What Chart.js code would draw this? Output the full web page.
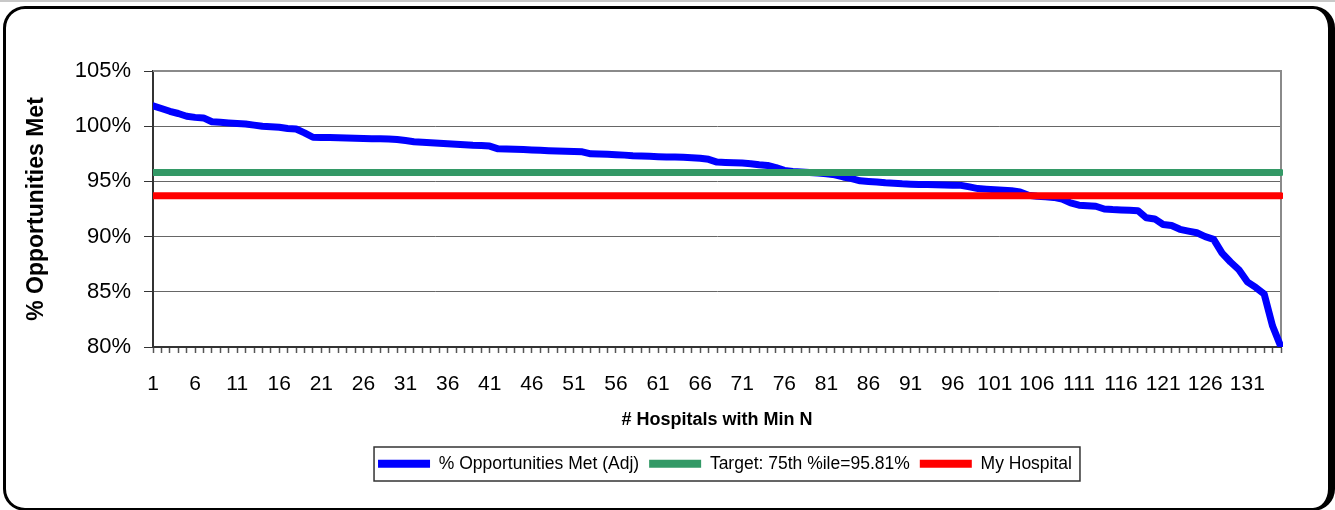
<!DOCTYPE html>
<html>
<head>
<meta charset="utf-8">
<title>% Opportunities Met</title>
<script src="https://cdn.jsdelivr.net/npm/chart.js@4.4.1/dist/chart.umd.min.js"></script>
<style>
    html, body { margin: 0; padding: 0; background: #ffffff; }
    #wrap { position: relative; width: 1335px; height: 510px; overflow: hidden; }
    #topline { position: absolute; left: 0; top: 0; width: 1335px; height: 2px; background: #c8c8c8; }
    #frame {
        position: absolute; left: 3px; top: 6px; width: 1322px; height: 499px;
        border-style: solid; border-color: #000; border-width: 3px 7px 3px 3px;
        border-radius: 22px; pointer-events: none;
    }
    canvas { position: absolute; left: 0; top: 0; }
</style>
</head>
<body>
<div id="wrap">
    <div id="topline"></div>
    <canvas id="chart" width="1335" height="510"></canvas>
    <div id="frame"></div>
</div>
<script>
// hospital values, sorted high to low (% opportunities met, adjusted)
const pctMet = [
    101.85, 101.6, 101.35, 101.15, 100.9, 100.8, 100.75, 100.4, 100.35, 100.3,
    100.25, 100.2, 100.1, 100.0, 99.95, 99.9, 99.8, 99.75, 99.4, 99.0,
    98.98, 98.97, 98.96, 98.93, 98.9, 98.88, 98.87, 98.86, 98.85, 98.8,
    98.7, 98.6, 98.55, 98.5, 98.45, 98.4, 98.36, 98.32, 98.28, 98.26,
    98.2, 97.95, 97.93, 97.91, 97.88, 97.85, 97.82, 97.78, 97.75, 97.72,
    97.7, 97.68, 97.5, 97.48, 97.45, 97.42, 97.38, 97.33, 97.3, 97.27,
    97.24, 97.22, 97.2, 97.18, 97.15, 97.1, 97.0, 96.75, 96.72, 96.7,
    96.66, 96.6, 96.5, 96.45, 96.25, 96.0, 95.9, 95.85, 95.8, 95.75,
    95.7, 95.6, 95.4, 95.25, 95.05, 95.0, 94.95, 94.87, 94.83, 94.78,
    94.75, 94.73, 94.72, 94.7, 94.68, 94.66, 94.64, 94.5, 94.35, 94.3,
    94.25, 94.2, 94.15, 94.05, 93.75, 93.65, 93.6, 93.55, 93.4, 93.05,
    92.85, 92.8, 92.75, 92.5, 92.45, 92.42, 92.38, 92.35, 91.7, 91.6,
    91.1, 91.0, 90.66, 90.5, 90.35, 90.0, 89.75, 88.5, 87.7, 87.0,
    85.9, 85.4, 84.8, 81.9, 80.0
];
const TARGET_75TH = 95.81;   // target line
const MY_HOSPITAL = 93.7;    // my hospital line
const hospitals = pctMet.map((v, i) => i + 1);
const yTicks = [80, 85, 90, 95, 100, 105];
const LABEL_STEP = 5;

const FONT = "'Liberation Sans', Arial, sans-serif";
const LEGEND_SHIFT = 8;

Chart.defaults.color = "#000000";
Chart.defaults.font.family = FONT;

// gray border on top/right of plot, like Excel's plot area
const plotBorder = {
    id: "plotBorder",
    beforeDatasetsDraw(chart) {
        const { ctx, chartArea: a } = chart;
        ctx.save();
        ctx.strokeStyle = "#8a8a8a";
        ctx.lineWidth = 2;
        ctx.beginPath();
        ctx.moveTo(a.left, a.top);
        ctx.lineTo(a.right, a.top);
        ctx.lineTo(a.right, a.bottom);
        ctx.stroke();
        ctx.restore();
    }
};

// nudge the legend and draw a box round it
const legendBox = {
    id: "legendBox",
    afterLayout(chart) {
        chart.legend.left += LEGEND_SHIFT;
        chart.legend.right += LEGEND_SHIFT;
    },
    afterDraw(chart) {
        const boxes = chart.legend.legendHitBoxes;
        if (!boxes || !boxes.length) return;
        const first = boxes[0], last = boxes[boxes.length - 1];
        const ctx = chart.ctx;
        ctx.save();
        ctx.strokeStyle = "#333333";
        ctx.lineWidth = 1.5;
        ctx.strokeRect(first.left - 4, first.top - 8,
                       last.left + last.width + 8 - (first.left - 4), first.height + 16.5);
        ctx.restore();
    }
};

function lineSet(label, data, color, order) {
    return {
        label: label,
        data: data,
        borderColor: color,
        backgroundColor: color,
        borderWidth: 7,
        borderCapStyle: "round",
        borderJoinStyle: "round",
        pointRadius: 0,
        pointHoverRadius: 0,
        tension: 0,
        fill: false,
        order: order,
        clip: { left: 0, top: 4, right: 2, bottom: 0 }
    };
}

new Chart(document.getElementById("chart"), {
    type: "line",
    data: {
        labels: hospitals,
        datasets: [
            lineSet("% Opportunities Met (Adj)", pctMet, "#0000ff", 3),
            lineSet("Target: 75th %ile=95.81%", hospitals.map(() => TARGET_75TH), "#339966", 2),
            lineSet("My Hospital", hospitals.map(() => MY_HOSPITAL), "#ff0000", 1)
        ]
    },
    options: {
        responsive: false,
        animation: false,
        events: [],
        layout: { padding: { left: 10, top: 71, right: 54, bottom: 27.5 } },
        plugins: {
            tooltip: { enabled: false },
            legend: {
                position: "bottom",
                fullSize: false,
                labels: {
                    boxWidth: 52,
                    boxHeight: 8,
                    useBorderRadius: true,
                    borderRadius: 4,
                    padding: 10,
                    font: { size: 17.5 },
                    generateLabels: function(chart) {
                        return chart.data.datasets.map((ds, i) => ({
                            text: ds.label,
                            fillStyle: ds.borderColor,
                            strokeStyle: ds.borderColor,
                            lineWidth: 0,
                            fontColor: "#000000",
                            hidden: false,
                            datasetIndex: i
                        }));
                    }
                }
            }
        },
        scales: {
            x: {
                type: "category",
                offset: false,
                afterFit: s => { s.height = 98; },
                grid: {
                    drawOnChartArea: false,
                    offset: false,
                    tickLength: 6,
                    tickColor: "#555555",
                    tickWidth: 1.5
                },
                border: { color: "#333333", width: 2 },
                ticks: {
                    autoSkip: false,
                    maxRotation: 0,
                    padding: 19,
                    font: { size: 21 },
                    callback: function(value, index) {
                        return index % LABEL_STEP === 0 ? this.getLabelForValue(value) : "";
                    }
                },
                title: {
                    display: true,
                    text: "# Hospitals with Min N",
                    font: { size: 18, weight: "bold" },
                    padding: { top: 0, bottom: 14 }
                }
            },
            y: {
                min: yTicks[0],
                max: yTicks[yTicks.length - 1],
                afterFit: s => { s.width = 143; },
                afterBuildTicks: s => { s.ticks = yTicks.map(v => ({ value: v })); },
                grid: {
                    color: "#666666",
                    lineWidth: 1,
                    tickLength: 9,
                    tickColor: "#333333"
                },
                border: { color: "#333333", width: 2 },
                ticks: {
                    padding: 13,
                    font: { size: 22 },
                    callback: v => v + "%"
                },
                title: {
                    display: true,
                    text: "% Opportunities Met",
                    font: { size: 23, weight: "bold" },
                    padding: { top: 13, bottom: 0 }
                }
            }
        }
    },
    plugins: [plotBorder, legendBox]
});
</script>
</body>
</html>
